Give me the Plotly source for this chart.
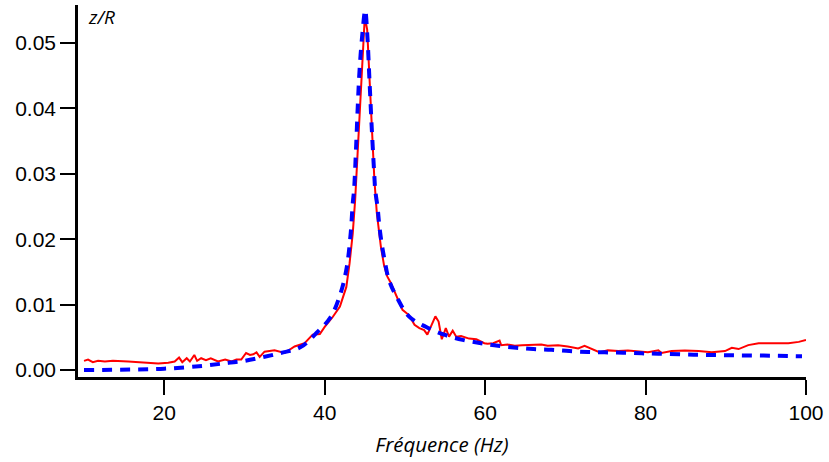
import plotly.graph_objects as go

# Fit curve (blue dashed)
fit_freq = [10, 20, 25, 28, 30, 34.5, 37, 39, 40.75, 42, 42.75, 43.25, 43.5, 43.66, 43.9,
            44.16, 44.37, 44.7, 45.05, 45.3, 45.6, 45.9, 46.2, 46.3, 46.6, 46.8, 47.1, 47.5,
            48.0, 48.96, 50.5, 52.6, 54.9, 57.2, 59.5, 61.6, 63.9, 66, 68.25, 70.5, 72.8,
            74.9, 77.2, 79.5, 81.6, 86, 90.3, 94.7, 99.5]
fit_val = [0.0000, 0.0002, 0.00066, 0.0011, 0.0014, 0.0026, 0.0035, 0.0057, 0.0081, 0.0118,
           0.0157, 0.0210, 0.0255, 0.0275, 0.0336, 0.0413, 0.0463, 0.0514, 0.0550, 0.0515,
           0.0439, 0.0362, 0.0295, 0.0275, 0.0248, 0.0222, 0.0194, 0.0166, 0.0138, 0.0112,
           0.0082, 0.0066, 0.0054, 0.0046, 0.0041, 0.0037, 0.0034, 0.0032, 0.0031, 0.0029,
           0.00275, 0.0027, 0.00265, 0.00255, 0.0025, 0.00234, 0.00225, 0.0022, 0.0021]

# Measurement (red)
meas_freq = [10, 10.5, 11.1, 11.75, 12.6, 13.6, 15.5, 17.6, 19.25, 20.5, 21.3, 21.85, 22.25,
             22.8, 23.2, 23.75, 24.1, 24.6, 25.2, 25.8, 26.7, 27.6, 28.4, 29.0, 29.6, 30.2,
             30.7, 31.1, 31.5, 31.9, 32.5, 33.75, 35.0, 36.25, 37.5, 38.5, 39.4, 40.0, 41.0,
             41.9, 42.7, 43.1, 43.5, 43.8, 44.1, 44.4, 44.7, 45.0, 45.3, 45.6, 45.9, 46.2,
             46.5, 46.7, 47.0, 47.4, 47.8, 48.25, 48.7, 49.1, 49.7, 50.5, 51.2, 51.8, 52.4,
             52.8, 53.25, 53.8, 54.2, 54.6, 55.1, 55.5, 55.96, 56.4, 57.0, 58.0, 58.9, 59.9,
             60.3, 61.0, 61.8, 62.0, 62.8, 63.7, 64.6, 65.75, 67.0, 67.8, 69.1, 70.3, 71.6,
             72.4, 73.25, 74.3, 75.3, 76.6, 77.8, 79.1, 80.3, 81.6, 82.0, 83.25, 84.9, 86.6,
             88.25, 89.9, 90.75, 91.6, 92.8, 94.1, 95.3, 96.6, 97.8, 99.1, 100]
meas_val = [0.0014, 0.0016, 0.0012, 0.0014, 0.0013, 0.0014, 0.0013, 0.0011, 0.0010, 0.0011,
            0.0013, 0.0019, 0.0012, 0.0018, 0.0013, 0.0023, 0.0014, 0.0018, 0.0015, 0.0018,
            0.0013, 0.0016, 0.0013, 0.0016, 0.0016, 0.0026, 0.0023, 0.0024, 0.0027, 0.0020,
            0.0028, 0.0030, 0.0026, 0.0036, 0.0041, 0.0054, 0.0055, 0.0066, 0.0081, 0.0097,
            0.0127, 0.0163, 0.0209, 0.0260, 0.0330, 0.0410, 0.0490, 0.0540, 0.0520, 0.0440,
            0.0365, 0.0290, 0.0240, 0.0219, 0.0189, 0.0160, 0.0143, 0.0133, 0.0120, 0.0107,
            0.0092, 0.0084, 0.0069, 0.0064, 0.0061, 0.0054, 0.0066, 0.0082, 0.0074, 0.0047,
            0.0064, 0.0051, 0.0060, 0.0051, 0.0052, 0.0048, 0.0047, 0.0041, 0.0040, 0.0041,
            0.0045, 0.0038, 0.0039, 0.0037, 0.0038, 0.0039, 0.0039, 0.0037, 0.0038, 0.0036,
            0.0033, 0.0037, 0.0033, 0.0027, 0.0030, 0.0029, 0.0030, 0.0029, 0.0027, 0.0030,
            0.0026, 0.0029, 0.0030, 0.0029, 0.0027, 0.0029, 0.0034, 0.0032, 0.0038, 0.0041,
            0.0041, 0.0042, 0.0041, 0.0043, 0.0046]

x_ticks = [20, 40, 60, 80, 100]
y_ticks = [0.00, 0.01, 0.02, 0.03, 0.04, 0.05]
x_title = "Fréquence (Hz)"
y_title = "z/R"

fig = go.Figure()
fig.add_trace(go.Scatter(x=meas_freq, y=meas_val, mode="lines",
                         line=dict(color="#ff0000", width=2), showlegend=False))
fig.add_trace(go.Scatter(x=fit_freq, y=fit_val, mode="lines", line_shape="spline",
                         line=dict(color="#0000ff", width=4, dash="10px,8px"), showlegend=False))

axis_common = dict(showline=True, linecolor="black", linewidth=2.5, ticks="outside",
                   ticklen=15, tickwidth=2, tickcolor="black", showgrid=False, zeroline=False,
                   tickfont=dict(family="Liberation Sans, Arial", size=21, color="black"))

fig.update_xaxes(range=[9.25, 100], tickvals=x_ticks, ticktext=[str(v) for v in x_ticks],
                 title=dict(text="<i>" + x_title + "</i>",
                            font=dict(family="Open Sans", size=20.5, color="black"),
                            standoff=15),
                 **axis_common)
fig.update_yaxes(range=[-0.00107, 0.0558], tickvals=y_ticks,
                 ticktext=["%.2f" % v for v in y_ticks], **axis_common)

fig.add_annotation(text="<i>" + y_title + "</i>", xref="paper", yref="paper", x=0, y=1,
                   xanchor="left", yanchor="top", xshift=8, yshift=3, showarrow=False,
                   font=dict(family="Open Sans", size=19, color="black"))
fig.update_layout(width=829, height=462, margin=dict(l=78, r=19, t=5, b=85),
                  plot_bgcolor="white", paper_bgcolor="white")

fig.write_html("out.html", config={"displayModeBar": False},
               post_script="document.body.style.margin='0px';")
